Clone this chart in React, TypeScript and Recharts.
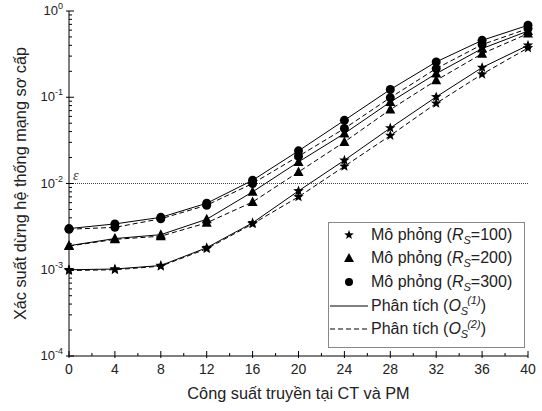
import React from "react";
import { LineChart, Line, XAxis, YAxis, ReferenceLine } from "recharts";

const xValues = [0, 4, 8, 12, 16, 20, 24, 28, 32, 36, 40];

// R_S = 100 (star)
const rs100Os1 = [1.0e-3, 1.02e-3, 1.12e-3, 1.8e-3, 3.5e-3, 8.2e-3, 0.0186, 0.044, 0.101, 0.221, 0.4];
const rs100Os2 = [0.98e-3, 1.0e-3, 1.1e-3, 1.75e-3, 3.4e-3, 7.0e-3, 0.0158, 0.036, 0.085, 0.185, 0.373];
// R_S = 200 (triangle)
const rs200Os1 = [1.9e-3, 2.3e-3, 2.55e-3, 3.85e-3, 8.0e-3, 0.0178, 0.038, 0.088, 0.188, 0.367, 0.586];
const rs200Os2 = [1.88e-3, 2.25e-3, 2.45e-3, 3.5e-3, 6.1e-3, 0.0136, 0.0303, 0.072, 0.157, 0.32, 0.547];
// R_S = 300 (circle)
const rs300Os1 = [3.0e-3, 3.4e-3, 4.05e-3, 5.9e-3, 0.0109, 0.0239, 0.054, 0.123, 0.257, 0.457, 0.683];
const rs300Os2 = [2.95e-3, 3.1e-3, 3.9e-3, 5.6e-3, 0.01, 0.0207, 0.0434, 0.099, 0.215, 0.408, 0.625];

const epsilon = 0.01;

const xTicks = [0, 2, 4, 6, 8, 10, 12, 14, 16, 18, 20, 22, 24, 26, 28, 30, 32, 34, 36, 38, 40];
const decades = [1e-4, 1e-3, 1e-2, 1e-1, 1];
const yTicks = decades.flatMap((d, i) =>
  i < decades.length - 1 ? [2, 3, 4, 5, 6, 7, 8, 9].map((m) => m * d).concat([d]) : [d]
);

const data = xValues.map((x, i) => ({
  x,
  a1: rs100Os1[i], a2: rs100Os2[i],
  b1: rs200Os1[i], b2: rs200Os2[i],
  c1: rs300Os1[i], c2: rs300Os2[i],
}));

const FONT = "'Liberation Sans', Arial, sans-serif";

const starPath = (cx: number, cy: number, r: number) => {
  const pts: string[] = [];
  for (let k = 0; k < 10; k++) {
    const rad = k % 2 === 0 ? r : r * 0.42;
    const a = -Math.PI / 2 + (k * Math.PI) / 5;
    pts.push(`${cx + rad * Math.cos(a)},${cy + rad * Math.sin(a)}`);
  }
  return `M${pts.join("L")}Z`;
};

const Star = (p: any) => <path key={p.index} d={starPath(p.cx, p.cy, 5.5)} fill="#000" />;
const Tri = (p: any) => (
  <path key={p.index} d={`M${p.cx},${p.cy - 5.5}L${p.cx + 5},${p.cy + 4}L${p.cx - 5},${p.cy + 4}Z`} fill="#000" />
);
const Dot = (p: any) => <circle key={p.index} cx={p.cx} cy={p.cy} r={4.5} fill="#000" />;

const isMajorX = (v: number) => v % 4 === 0;
const isDecade = (v: number) => Math.abs(Math.log10(v) - Math.round(Math.log10(v))) < 1e-6;

const XTick = (props: any) => {
  const { x, y, payload, side } = props;
  const v = payload.value;
  const major = isMajorX(v);
  const dir = side === "bottom" ? -1 : 1;
  return (
    <g>
      <line x1={x} x2={x} y1={major ? y - dir * 2 : y} y2={y + dir * (major ? 5 : 3)} stroke="#000" />
      {side === "bottom" && major && (
        <text x={x} y={y + 18} textAnchor="middle" fontSize={14} fontFamily={FONT} fill="#222">
          {v}
        </text>
      )}
    </g>
  );
};

const YTick = (props: any) => {
  const { x, y, payload, side } = props;
  const v = payload.value;
  const major = isDecade(v);
  const dir = side === "left" ? 1 : -1;
  const exp = Math.round(Math.log10(v));
  return (
    <g>
      <line x1={major ? x - dir * 3 : x} x2={x + dir * (major ? 5 : 3)} y1={y} y2={y} stroke="#000" />
      {side === "left" && major && (
        <text x={x - 6} y={y + 4} textAnchor="end" fontSize={13} fontFamily={FONT} fill="#222">
          10
          <tspan dy={-6} fontSize={9}>{exp}</tspan>
        </text>
      )}
    </g>
  );
};

const legendItems = [
  { kind: "star", label: "Mô phỏng (", sym: "R", val: "=100)" },
  { kind: "tri", label: "Mô phỏng (", sym: "R", val: "=200)" },
  { kind: "dot", label: "Mô phỏng (", sym: "R", val: "=300)" },
  { kind: "solid", label: "Phân tích (", sym: "O", val: "(1)" },
  { kind: "dash", label: "Phân tích (", sym: "O", val: "(2)" },
];

const LegendSymbol = ({ kind }: { kind: string }) => (
  <svg width={40} height={20} style={{ flex: "none" }}>
    {kind === "star" && <path d={starPath(20, 10, 5)} fill="#000" />}
    {kind === "tri" && <path d="M20,5L25,14L15,14Z" fill="#000" />}
    {kind === "dot" && <circle cx={20} cy={10} r={4} fill="#000" />}
    {kind === "solid" && <line x1={1} x2={39} y1={10} y2={10} stroke="#000" />}
    {kind === "dash" && <line x1={1} x2={39} y1={10} y2={10} stroke="#000" strokeDasharray="5 3" />}
  </svg>
);

export default function App() {
  return (
    <div style={{ position: "absolute", left: 0, top: 0, width: 542, height: 411, background: "#fff" }}>
      <LineChart width={542} height={411} data={data} margin={{ top: 11, right: 14, left: 0, bottom: 0 }}>
        <XAxis
          dataKey="x"
          type="number"
          domain={[0, 40]}
          ticks={xTicks}
          interval={0}
          height={55}
          tickSize={0}
          tickMargin={0}
          tickLine={false}
          axisLine={{ stroke: "#000" }}
          tick={<XTick side="bottom" />}
          label={{
            value: "Công suất truyền tại CT và PM",
            position: "insideBottom",
            offset: 12,
            fontSize: 16.3,
            fontFamily: FONT,
            fill: "#222",
          }}
        />
        <XAxis
          xAxisId="top"
          orientation="top"
          dataKey="x"
          type="number"
          domain={[0, 40]}
          ticks={xTicks}
          interval={0}
          height={0}
          tickSize={0}
          tickMargin={0}
          tickLine={false}
          axisLine={{ stroke: "#000" }}
          tick={<XTick side="top" />}
        />
        <YAxis
          type="number"
          scale="log"
          domain={[1e-4, 1]}
          ticks={yTicks}
          interval={0}
          allowDataOverflow
          width={69}
          tickSize={0}
          tickMargin={0}
          tickLine={false}
          axisLine={{ stroke: "#000" }}
          tick={<YTick side="left" />}
          label={{
            value: "Xác suất dừng hệ thống mạng sơ cấp",
            angle: -90,
            position: "insideLeft",
            offset: 20,
            style: { textAnchor: "middle" },
            fontSize: 16.3,
            fontFamily: FONT,
            fill: "#222",
          }}
        />
        <YAxis
          yAxisId="right"
          orientation="right"
          type="number"
          scale="log"
          domain={[1e-4, 1]}
          ticks={yTicks}
          interval={0}
          allowDataOverflow
          width={0}
          tickSize={0}
          tickMargin={0}
          tickLine={false}
          axisLine={{ stroke: "#000" }}
          tick={<YTick side="right" />}
        />
        <ReferenceLine
          y={epsilon}
          stroke="#444"
          strokeWidth={1}
          strokeDasharray="1 1"
          label={{
            value: "ε",
            position: "insideBottomLeft",
            offset: 4,
            fontSize: 14,
            fontStyle: "italic",
            fontFamily: "'Liberation Serif', serif",
            fill: "#333",
          }}
        />
        <Line dataKey="a1" stroke="#000" strokeWidth={1} dot={Star} isAnimationActive={false} />
        <Line dataKey="a2" stroke="#000" strokeWidth={1} strokeDasharray="5 3" dot={Star} isAnimationActive={false} />
        <Line dataKey="b1" stroke="#000" strokeWidth={1} dot={Tri} isAnimationActive={false} />
        <Line dataKey="b2" stroke="#000" strokeWidth={1} strokeDasharray="5 3" dot={Tri} isAnimationActive={false} />
        <Line dataKey="c1" stroke="#000" strokeWidth={1} dot={Dot} isAnimationActive={false} />
        <Line dataKey="c2" stroke="#000" strokeWidth={1} strokeDasharray="5 3" dot={Dot} isAnimationActive={false} />
      </LineChart>
      <div
        style={{
          position: "absolute",
          left: 328,
          top: 222,
          width: 197,
          height: 126,
          border: "1px solid #888",
          background: "#fff",
          boxSizing: "border-box",
          padding: 0,
          fontFamily: FONT,
          fontSize: 16,
          color: "#222",
          overflow: "hidden",
        }}
      >
        {legendItems.map((it) => (
          <div key={it.kind} style={{ display: "flex", alignItems: "center", height: 23.6, whiteSpace: "nowrap" }}>
            <LegendSymbol kind={it.kind} />
            <span style={{ marginLeft: 2, lineHeight: "20px" }}>
              {it.label}
              <i>{it.sym}</i>
              {it.sym === "R" ? (
                <>
                  <sub style={{ fontSize: 11, fontStyle: "italic", lineHeight: 0 }}>S</sub>
                  {it.val}
                </>
              ) : (
                <>
                  <sub style={{ fontSize: 11, fontStyle: "italic", lineHeight: 0 }}>S</sub>
                  <sup style={{ fontSize: 11, fontStyle: "italic", marginLeft: -1, lineHeight: 0 }}>{it.val}</sup>)
                </>
              )}
            </span>
          </div>
        ))}
      </div>
    </div>
  );
}
